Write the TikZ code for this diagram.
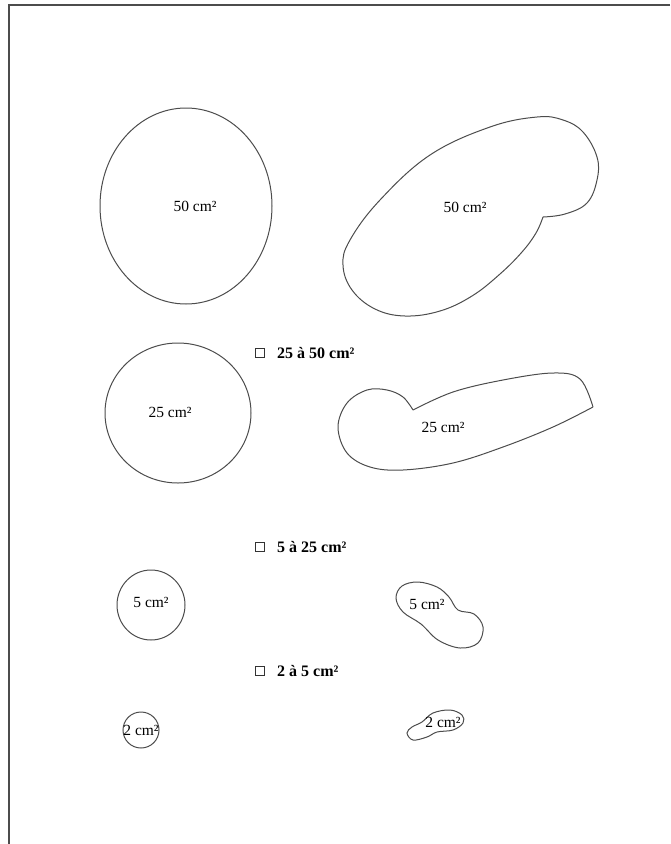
\documentclass[tikz,border=0pt]{standalone}
\usepackage{fontspec}
\setmainfont{Liberation Serif}
\usepackage{tikz}
\usetikzlibrary{positioning}

\tikzset{
  outline/.style={draw=black!70, line width=1pt},
  arealabel/.style={font=\fontsize{15.5}{17}\selectfont, inner sep=1pt},
  tickbox/.style={draw=black!80, line width=0.9pt, minimum size=9pt, inner sep=0pt},
  classlabel/.style={font=\fontsize{16}{18}\selectfont\bfseries, inner sep=1pt}
}

\begin{document}
\begin{tikzpicture}[x=1pt,y=-1pt]
    % Page size of the reference (pixels)
    \useasboundingbox (0,0) rectangle (670,844);

    % Frame lines (top and left only)
    \draw[black!70, line width=2pt] (670,5) -- (9,5) -- (9,844);

    % Round wounds on the left
    \draw[outline] (186,206) ellipse [x radius=86, y radius=98]; % 50
    \draw[outline] (178,413) ellipse [x radius=73, y radius=70]; % 25
    \draw[outline] (151,605) ellipse [x radius=34, y radius=35]; % 5
    \draw[outline] (141,730) ellipse [x radius=18, y radius=18]; % 2

    % Irregular wounds on the right (corner at the notch)
    \draw[outline] plot[smooth, tension=0.65] coordinates {
      (543,217) (565,214) (587,203) (597,180) (597,157) (583,132)
      (563,120) (537,117) (490,127) (430,155) (380,200)
      (350,240) (343,265) (352,290) (375,309) (405,316) (440,311)
      (472,296) (500,274) (522,252) (536,233) (543,217)};
    \draw[outline] plot[smooth, tension=0.6] coordinates {
      (413,410) (453,392) (503,380) (553,373) (580,379) (593,407)};
    \draw[outline] plot[smooth, tension=0.6] coordinates {
      (593,407) (553,427) (503,447) (453,463) (403,470) (370,467)
      (347,453) (338,427) (347,403) (367,390) (387,390) (403,397)
      (413,410)};
    \draw[outline] plot[smooth cycle, tension=0.6] coordinates {
      (396,598) (402,586) (418,582) (437,587) (449,597) (458,610)
      (474,614) (483,627) (478,643) (460,648) (438,640) (421,624)
      (403,612)};
    \draw[outline] plot[smooth cycle, tension=0.6] coordinates {
      (433,713) (450,710) (462,715) (463,723) (453,730) (437,732)
      (427,737) (413,740) (407,733) (412,727) (422,722)};

    % Area labels
    \node[arealabel] (c50) at (195,206) {50 cm²};
    \node[arealabel] (b50) at (465,207) {50 cm²};
    \node[arealabel] (c25) at (170,412) {25 cm²};
    \node[arealabel] (b25) at (443,427) {25 cm²};
    \node[arealabel] (c5)  at (151,602) {5 cm²};
    \node[arealabel] (b5)  at (427,604) {5 cm²};
    \node[arealabel] (c2)  at (141,730) {2 cm²};
    \node[arealabel] (b2)  at (443,722) {2 cm²};

    % Size classes with tick boxes
    \node[tickbox] (box1) at (260,353) {};
    \node[classlabel, right=11pt of box1] (cls1) {25 à 50 cm²};
    \node[tickbox] (box2) at (260,547) {};
    \node[classlabel, right=11pt of box2] (cls2) {5 à 25 cm²};
    \node[tickbox] (box3) at (260,671) {};
    \node[classlabel, right=11pt of box3] (cls3) {2 à 5 cm²};
\end{tikzpicture}
\end{document}
